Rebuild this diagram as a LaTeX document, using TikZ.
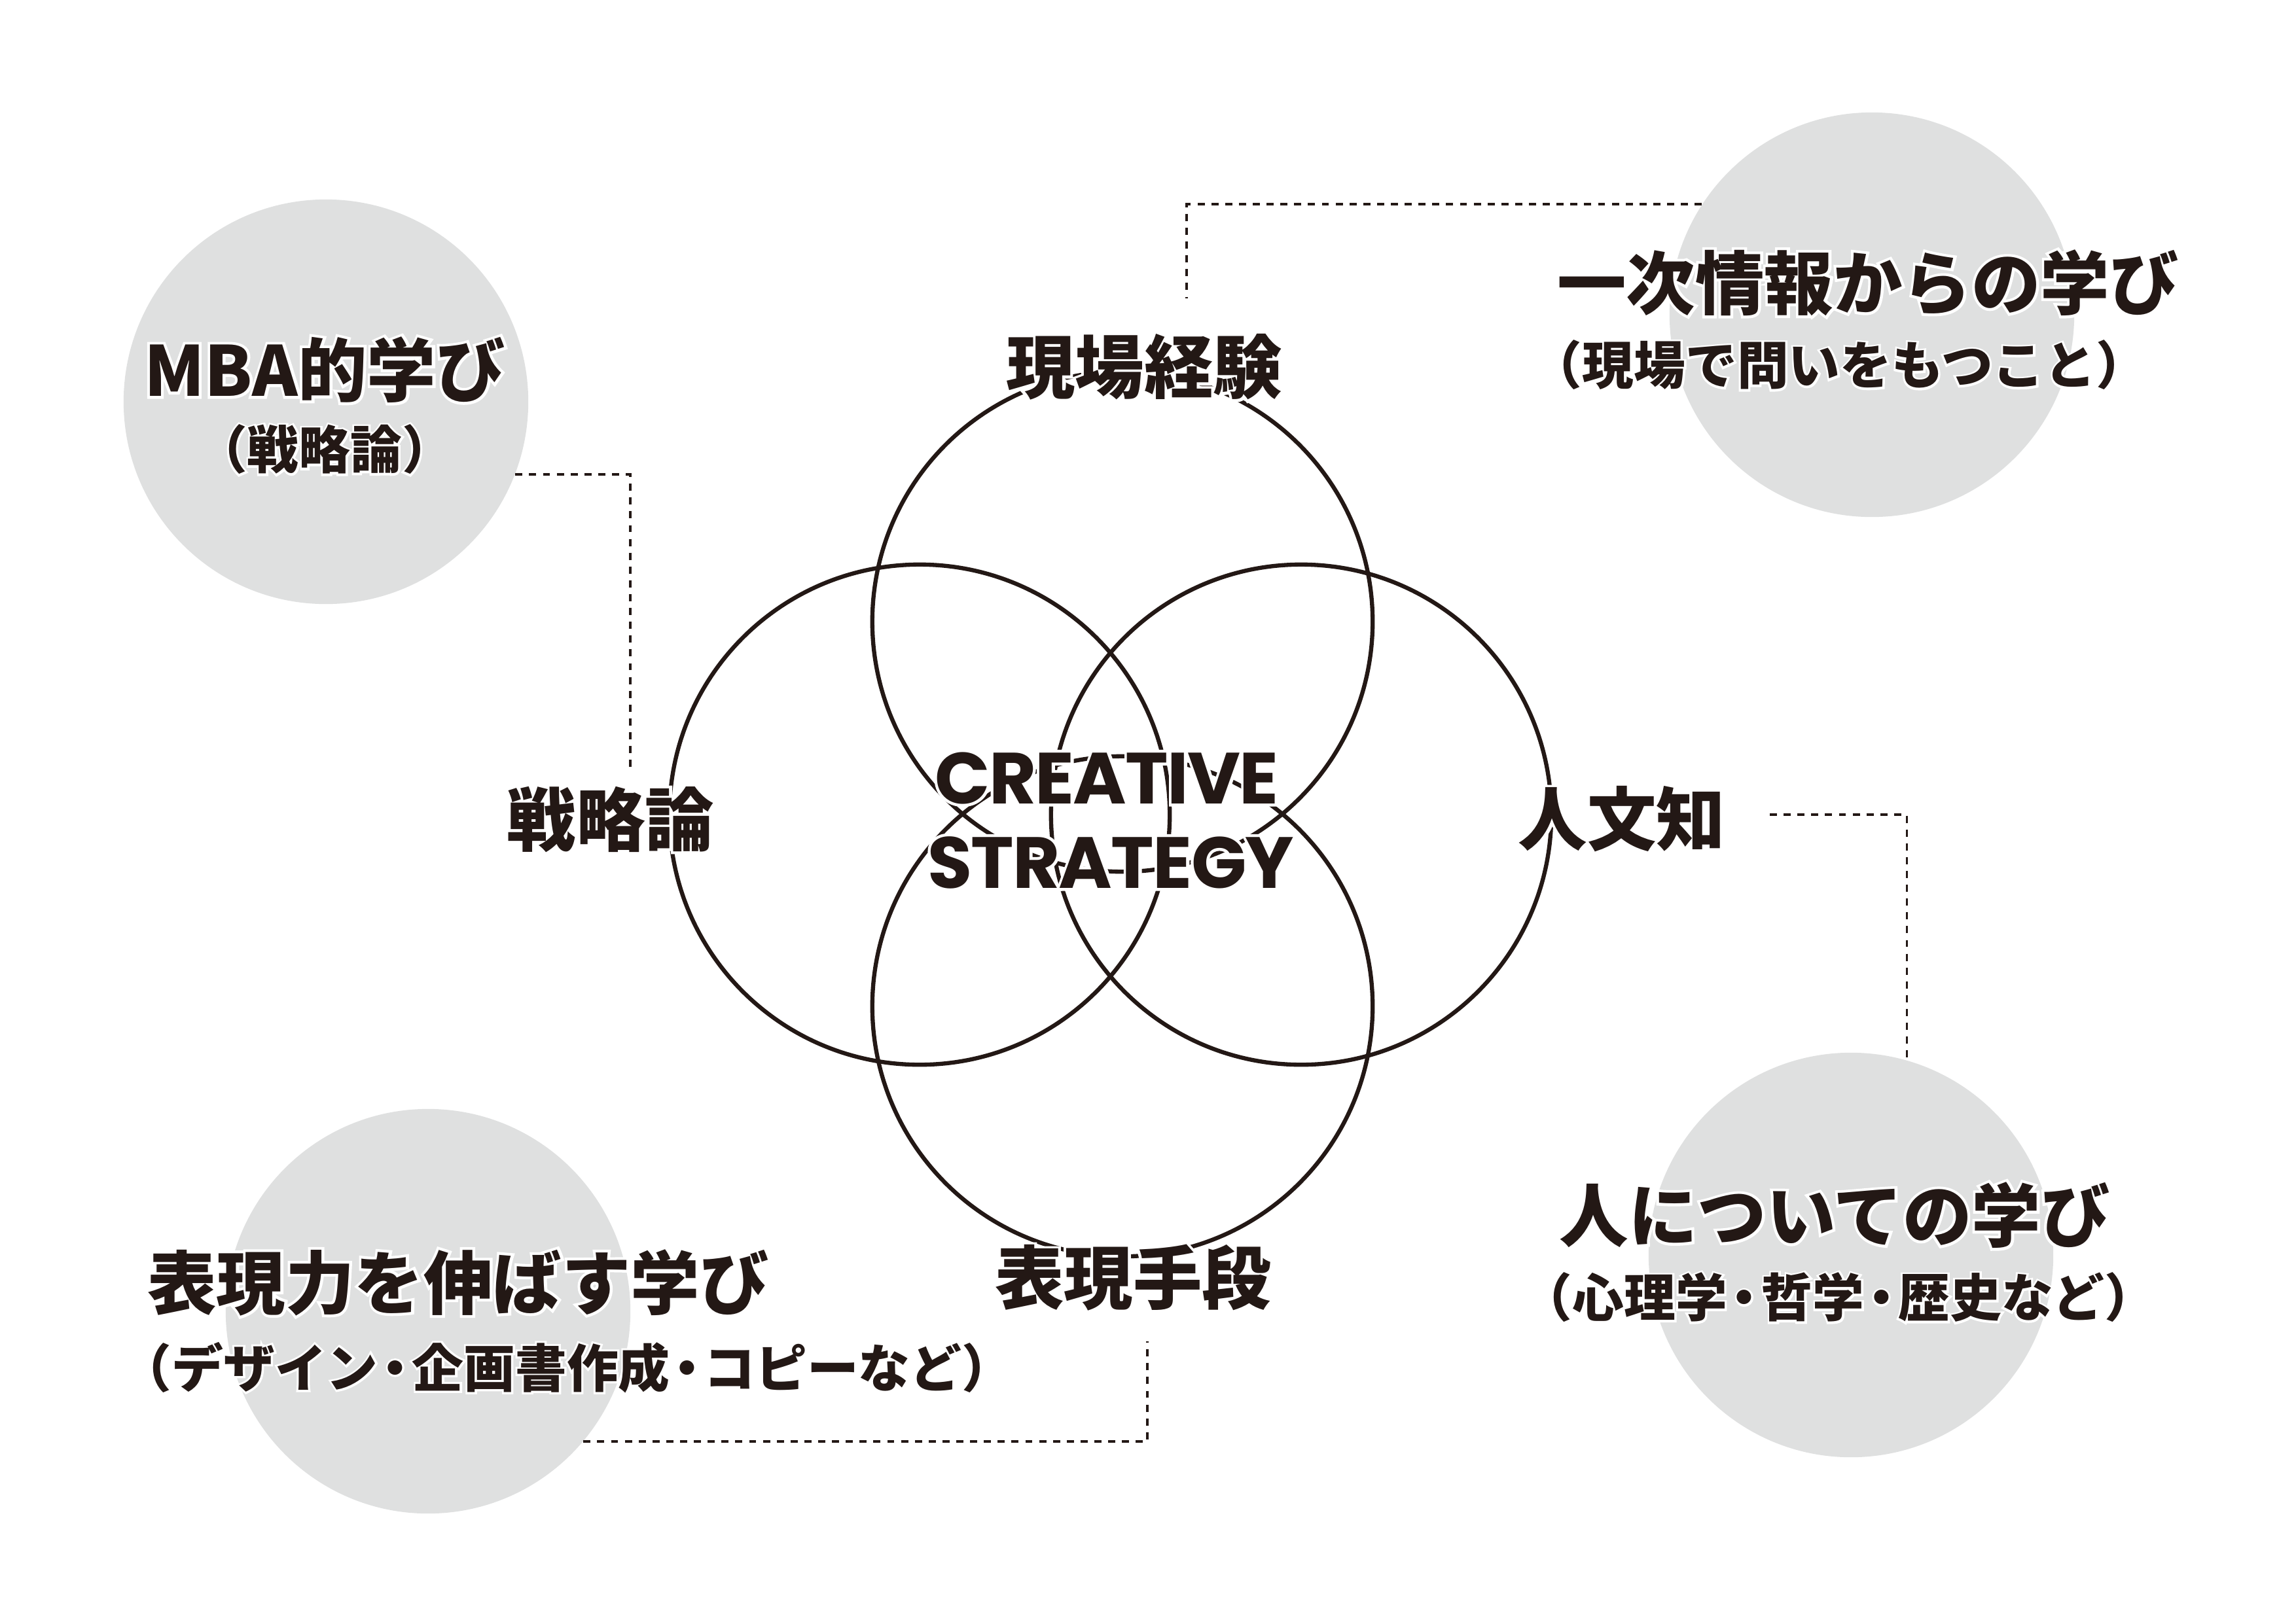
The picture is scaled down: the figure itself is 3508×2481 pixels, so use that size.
\documentclass[tikz,border=0pt]{standalone}
\usepackage{fontspec}
\usepackage{xcolor}
\newfontfamily\jp{Noto Sans CJK JP}
\newfontfamily\en{Poppins}[LetterSpace=-1.5]
\definecolor{ink}{HTML}{231815}
\definecolor{pale}{HTML}{DFE0E0}
\newcommand{\halo}[1]{\leavevmode\rlap{\color{white}\addfontfeature{FakeBold=8}#1}#1}
\newcommand{\nd}{\kern-.17em・\kern-.17em}
\begin{document}
\begin{tikzpicture}[x=0.01cm,y=-0.01cm,
  bubble/.style={circle,fill=pale,draw=none,minimum size=6.18cm,inner sep=0pt},
  venn/.style={circle,draw=ink,line width=1.8pt,minimum size=7.64cm,inner sep=0pt},
  link/.style={draw=ink,line width=1pt,dash pattern=on 3.1pt off 2.9pt},
  txt/.style={inner sep=0pt,text=ink},
  label/.style={txt,font=\jp\bfseries\fontsize{30}{36}\selectfont},
  head/.style={txt,font=\jp\bfseries\fontsize{30}{36}\selectfont},
  sub/.style={txt,font=\jp\bfseries\fontsize{22.4}{27}\selectfont},
  core/.style={txt,font=\en\bfseries\fontsize{31.5}{36}\selectfont}]
\useasboundingbox (0,0) rectangle (3508,2481);
% grey bubbles
\node[bubble] (g1) at (498,614) {};
\node[bubble] (g2) at (2860,481) {};
\node[bubble] (g3) at (2828,1918) {};
\node[bubble] (g4) at (654,2004) {};
% connector ends
\coordinate (c1) at (963,1172);
\coordinate (c2) at (1813,456);
\coordinate (c3) at (2704,1245);
\coordinate (c4) at (1753,2050);
\draw[link] (g1.-21.4) -| (c1);
\draw[link] (g2.147.7) -| (c2);
\draw[link] (c3) -| (g3.74.1);
\draw[link] (g4.-40.9) -| (c4);
% venn circles
\node[venn] (vt) at (1715,950) {};
\node[venn] (vl) at (1405,1245) {};
\node[venn] (vr) at (1988,1245) {};
\node[venn] (vb) at (1715,1538) {};
% labels
\node[label] (l1) at (1748,561) {\halo{現場経験}};
\node[label] (l2) at (933,1252) {\halo{戦略論}};
\node[label] (l3) at (2478,1252) {\halo{人文知}};
\node[label] (l4) at (1731,1953) {\halo{表現手段}};
\node[core] (cr1) at (1691,1189) {\halo{CREATIVE}};
\node[core] (cr2) at (1697,1318) {\halo{STRATEGY}};
% bubble texts
\node[head] (h1) at (496,565) {\halo{MBA的学び}};
\node[sub] (s1) at (496,687) {\halo{（戦略論）}};
\node[head] (h2) at (2854,432) {\halo{一次情報からの学び}};
\node[sub] (s2) at (2810,558) {\halo{（現場で問いをもつこと）}};
\node[head] (h3) at (2803,1857) {\halo{人についての学び}};
\node[sub] (s3) at (2809,1983) {\halo{（心理学\nd 哲学\nd 歴史など）}};
\node[head] (h4) at (700,1960) {\halo{表現力を伸ばす学び}};
\node[sub] (s4) at (866,2090) {\halo{（デザイン\nd 企画書作成\nd コピーなど）}};
\end{tikzpicture}
\end{document}
